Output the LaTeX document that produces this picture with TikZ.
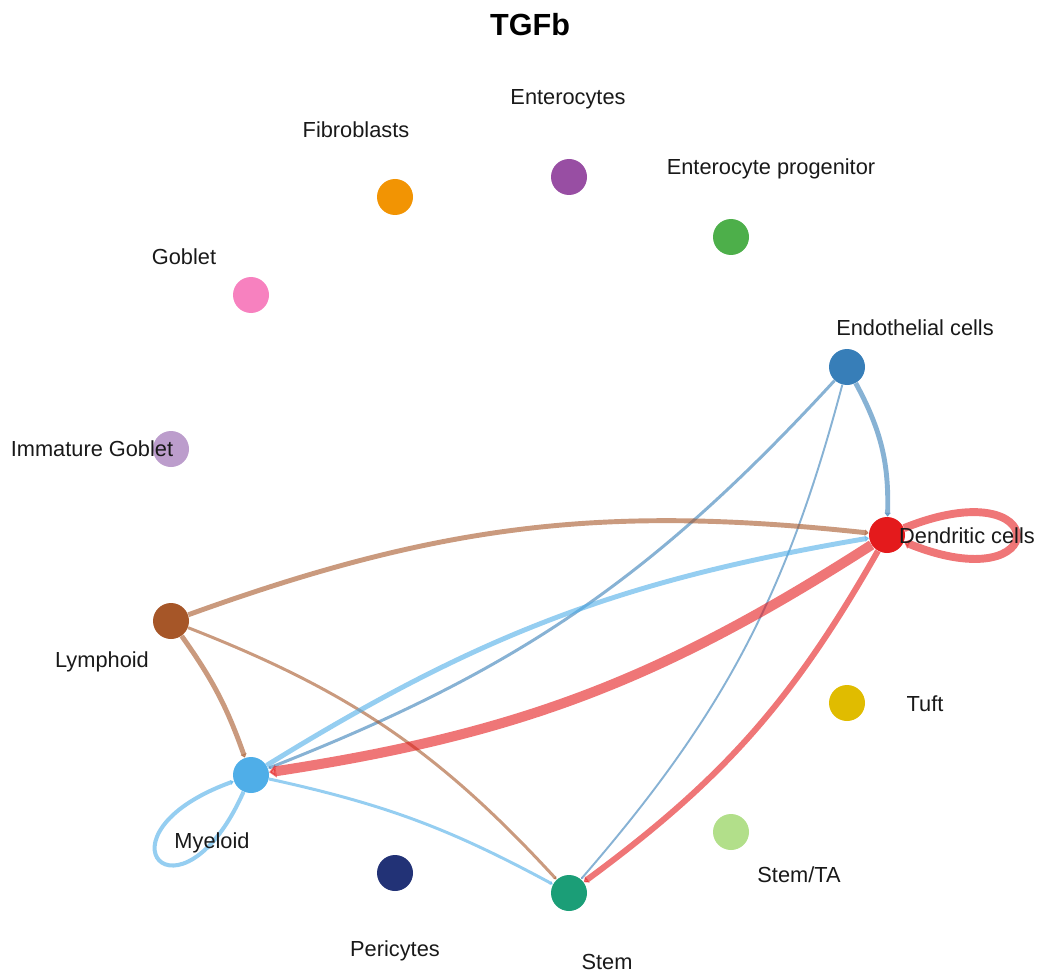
\documentclass[tikz,border=0pt]{standalone}
\usepackage{fontspec}
\setmainfont{Liberation Sans}
\usetikzlibrary{arrows.meta}
\definecolor{fibC}{HTML}{F29403}
\definecolor{entC}{HTML}{984EA3}
\definecolor{entpC}{HTML}{4DAF4A}
\definecolor{gobC}{HTML}{F781BF}
\definecolor{endoC}{HTML}{377EB8}
\definecolor{igobC}{HTML}{BC9DCC}
\definecolor{dcC}{HTML}{E41A1C}
\definecolor{lymC}{HTML}{A65628}
\definecolor{tuftC}{HTML}{E0BC00}
\definecolor{myeC}{HTML}{4FAEE8}
\definecolor{staC}{HTML}{B2DF8A}
\definecolor{periC}{HTML}{223276}
\definecolor{stemC}{HTML}{1B9E77}
\begin{document}
\begin{tikzpicture}
% Frame
\useasboundingbox (0,0) rectangle (20.82,19.5);

\tikzstyle{cell} = [shape=circle, minimum size=0.72cm, inner sep=0pt]
\tikzstyle{lbl} = [font=\fontsize{12.4}{14}\selectfont, text=black!90, inner sep=0pt, text height=9pt, text depth=1pt]
\tikzstyle{sig} = [opacity=0.6, -{Triangle[length=0.5pt 0.6, width=0pt 1.25]}]

\node at (10.60,19.00)[font=\bfseries\fontsize{17.4}{20}\selectfont](title){TGFb};

\node at (7.90,15.56)[cell, fill=fibC](fib){};
\node at (11.38,15.96)[cell, fill=entC](ent){};
\node at (14.62,14.76)[cell, fill=entpC](entp){};
\node at (5.02,13.60)[cell, fill=gobC](gob){};
\node at (16.94,12.16)[cell, fill=endoC](endo){};
\node at (3.42,10.52)[cell, fill=igobC](igob){};
\node at (17.74,8.80)[cell, fill=dcC](dc){};
\node at (3.42,7.08)[cell, fill=lymC](lym){};
\node at (16.94,5.44)[cell, fill=tuftC](tuft){};
\node at (5.02,4.00)[cell, fill=myeC](mye){};
\node at (14.62,2.86)[cell, fill=staC](sta){};
\node at (7.90,2.04)[cell, fill=periC](peri){};
\node at (11.38,1.64)[cell, fill=stemC](stem){};

% interactions
\draw[sig, endoC, line width=2.8pt] (endo) to[bend left=15] (dc);
\draw[sig, endoC, line width=1.7pt] (endo) to[bend left=13] (mye);
\draw[sig, endoC, line width=1.1pt] (endo) to[bend left=13] (stem);
\draw[sig, lymC, line width=2.8pt] (lym) to[bend left=13] (dc);
\draw[sig, lymC, line width=2.8pt] (lym) to[bend left=8] (mye);
\draw[sig, lymC, line width=1.7pt] (lym) to[bend left=13] (stem);
\draw[sig, myeC, line width=2.8pt] (mye) to[bend left=11] (dc);
\draw[sig, myeC, line width=1.7pt] (mye) to[bend left=8] (stem);
\draw[sig, dcC, line width=5.7pt] (dc) to[bend left=12] (mye);
\draw[sig, dcC, line width=3.4pt] (dc) to[bend left=12] (stem);
\draw[sig, dcC, line width=4.5pt] (dc) .. controls +(22:3.6) and +(-22:3.6) .. (dc);
\draw[sig, myeC, line width=2.3pt] (mye) .. controls +(246:3.5) and +(200:3.5) .. (mye);

\node at (7.12,16.90)[lbl](fibL){Fibroblasts};
\node at (11.36,17.56)[lbl](entL){Enterocytes};
\node at (15.42,16.16)[lbl](entpL){Enterocyte progenitor};
\node at (3.68,14.36)[lbl](gobL){Goblet};
\node at (18.30,12.94)[lbl](endoL){Endothelial cells};
\node at (1.84,10.52)[lbl](igobL){Immature Goblet};
\node at (19.34,8.78)[lbl](dcL){Dendritic cells};
\node at (2.04,6.30)[lbl](lymL){Lymphoid};
\node at (18.50,5.42)[lbl](tuftL){Tuft};
\node at (4.24,2.68)[lbl](myeL){Myeloid};
\node at (15.98,2.00)[lbl](staL){Stem/TA};
\node at (7.90,0.52)[lbl](periL){Pericytes};
\node at (12.14,0.26)[lbl](stemL){Stem};

\end{tikzpicture}
\end{document}
